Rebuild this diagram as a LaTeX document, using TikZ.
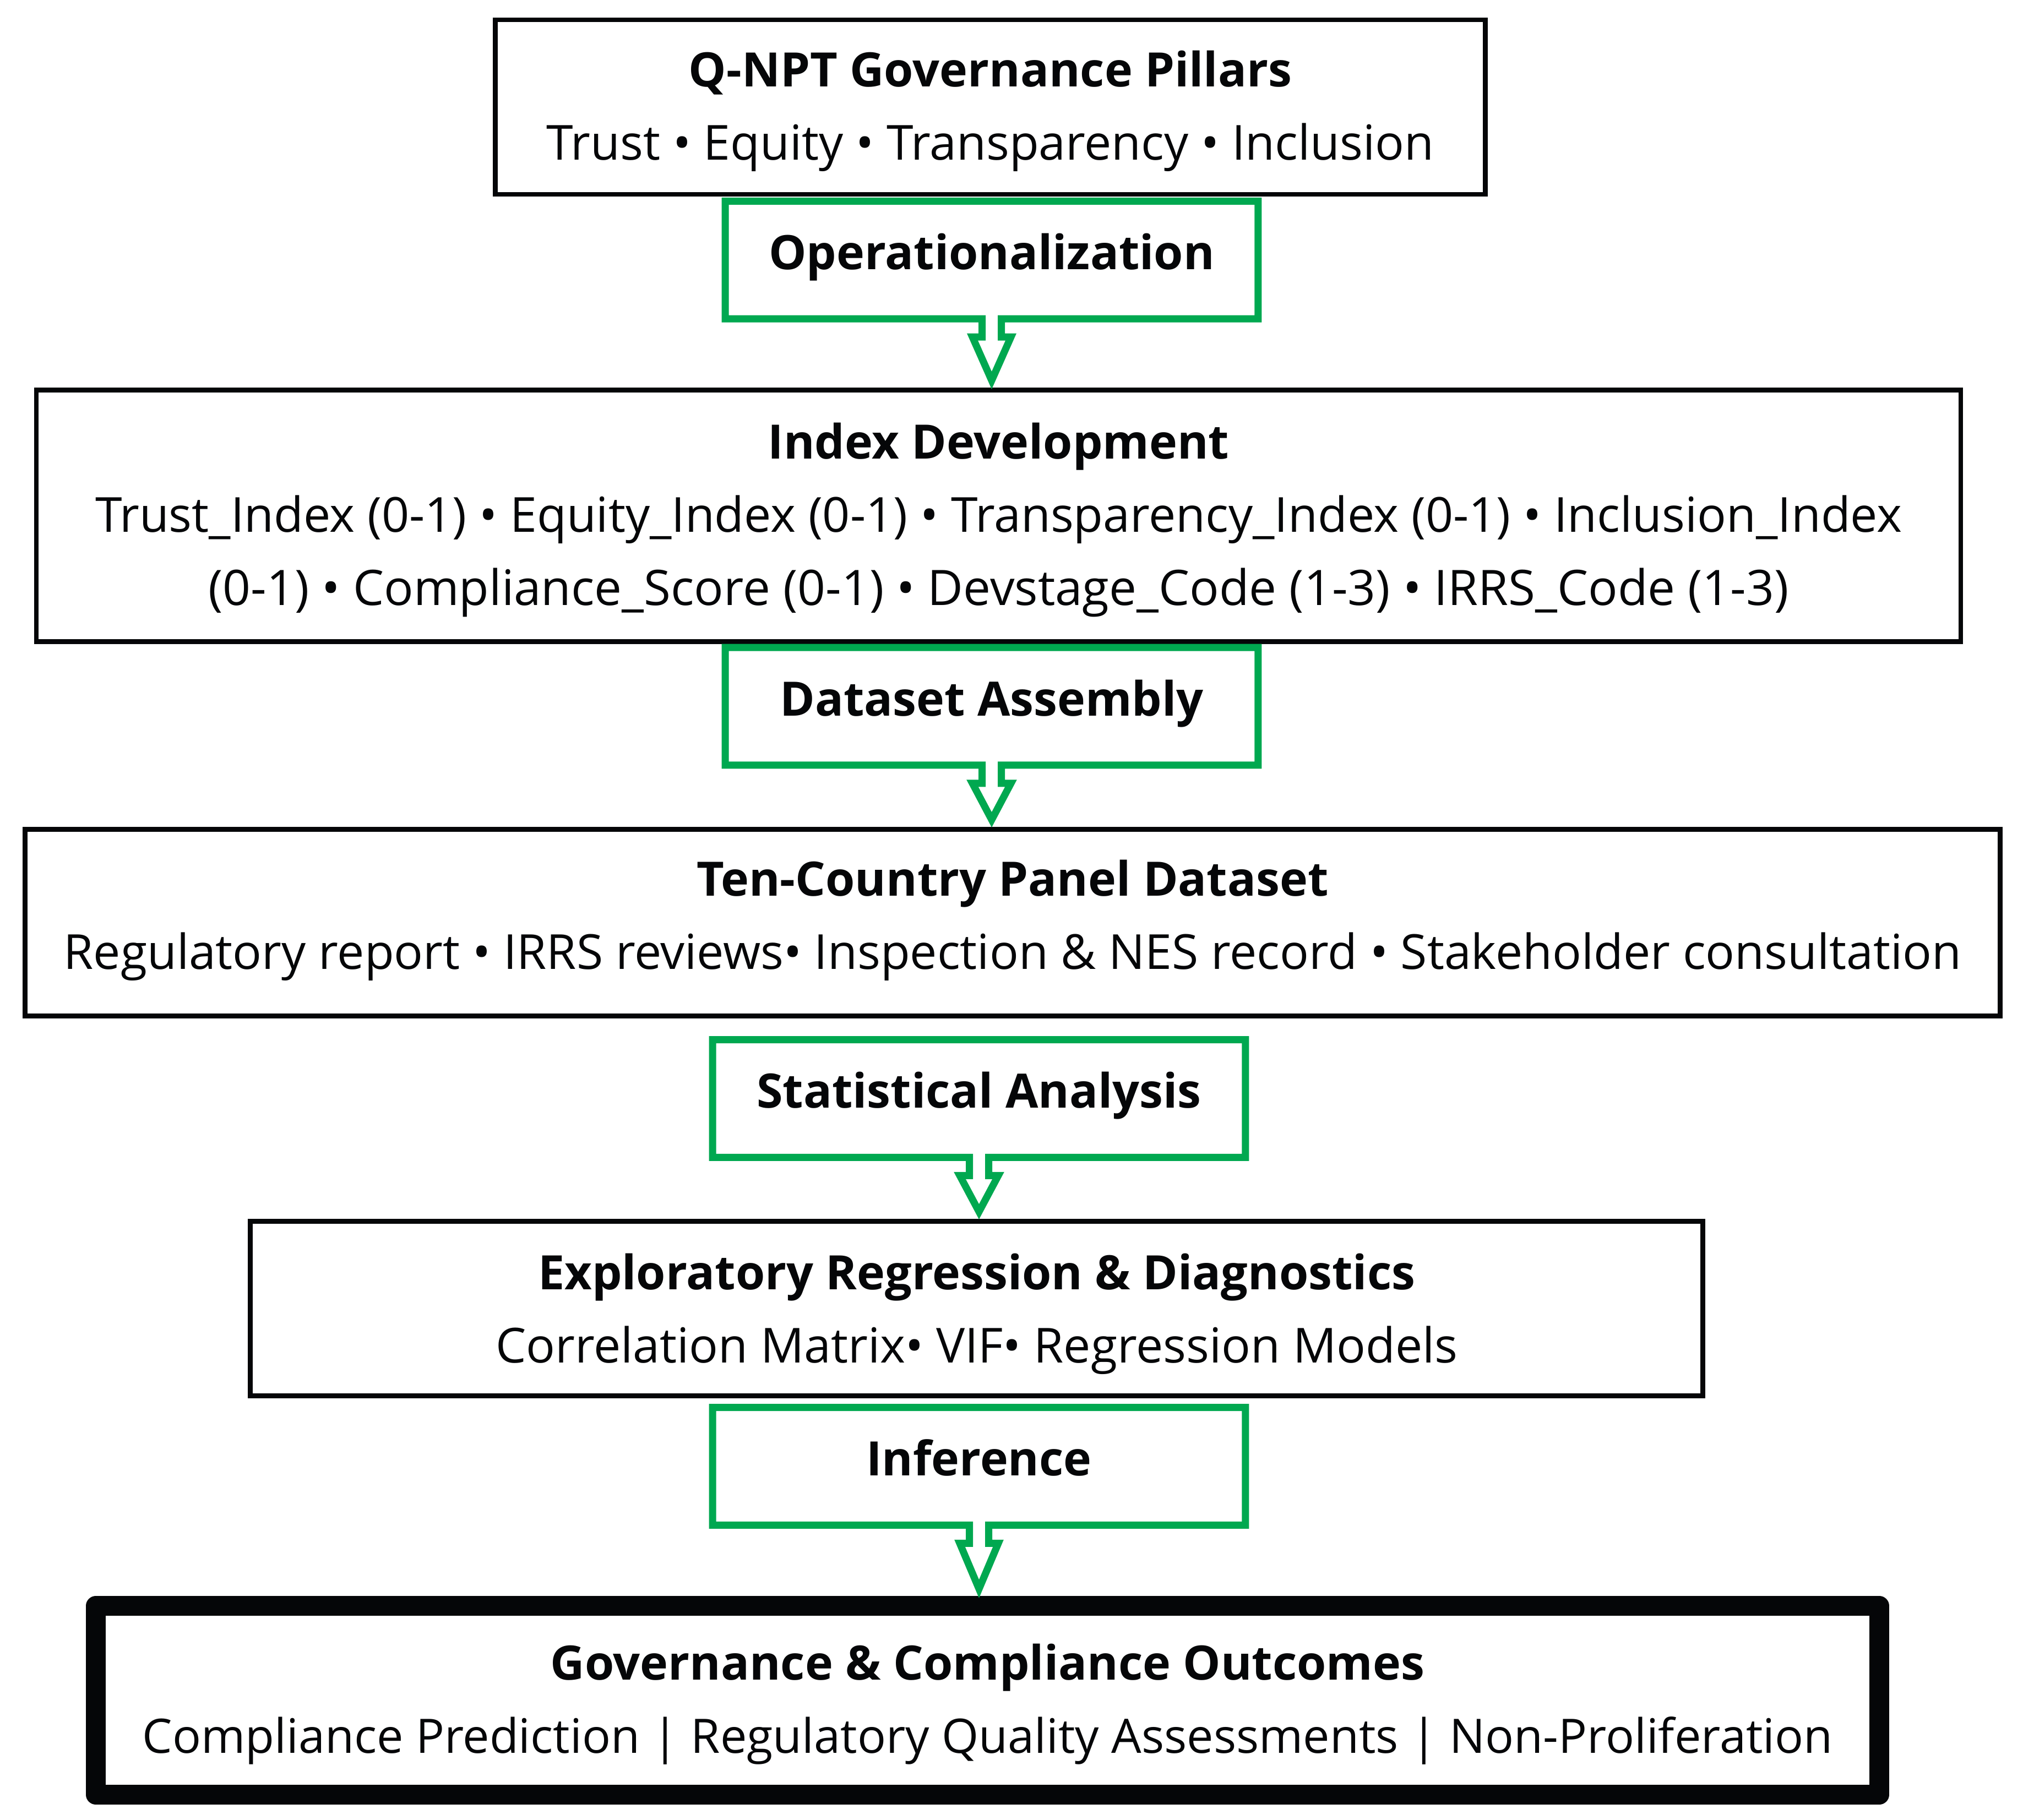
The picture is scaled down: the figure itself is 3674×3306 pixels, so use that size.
\documentclass[tikz,border=0pt]{standalone}
\usepackage{fontspec}
\setmainfont{Open Sans}
\usetikzlibrary{calc}
\definecolor{callgreen}{RGB}{0,168,80}
\definecolor{inkblack}{RGB}{5,6,8}
\newcommand{\drawcallout}[2]{%
  \draw[callline] (#1.south west) -- ($(#1.south)+(-17.5,0)$) -- ($(#1.south)+(-17.5,33)$)
    -- ($(#1.south)+(-35,33)$) -- ($(#1.south |- #2.north)+(0,-13)$) -- ($(#1.south)+(35,33)$)
    -- ($(#1.south)+(17.5,33)$) -- ($(#1.south)+(17.5,0)$) -- (#1.south east)
    -- (#1.north east) -- (#1.north west) -- cycle;}
\begin{document}
\begin{tikzpicture}[x=0.01cm,y=-0.01cm,
  box/.style={draw=inkblack, line width=2.5pt, inner sep=0pt},
  finalbox/.style={draw=inkblack, line width=10.1pt, line join=round, inner sep=0pt},
  callbox/.style={inner sep=0pt, outer sep=0pt, minimum width=9.67cm, minimum height=2.135cm},
  callline/.style={draw=callgreen, line width=3.7pt, line join=miter},
  ttl/.style={anchor=base, inner sep=0pt, font=\fontsize{24.5pt}{30pt}\selectfont\bfseries, text=inkblack},
  txt/.style={anchor=base, inner sep=0pt, font=\fontsize{24.95pt}{30pt}\selectfont, text=inkblack}]
\useasboundingbox (0,0) rectangle (3674,3306);

% boxes
\node[box, minimum width=17.97cm, minimum height=3.17cm] (b1) at (1798.5,194.5) {};
\node[box, minimum width=34.93cm, minimum height=4.57cm] (b2) at (1813.5,937) {};
\node[box, minimum width=35.85cm, minimum height=3.385cm] (b3) at (1839,1675.75) {};
\node[box, minimum width=26.365cm, minimum height=3.17cm] (b4) at (1773.75,2377) {};
\node[finalbox, minimum width=32.37cm, minimum height=3.43cm] (b5) at (1793.5,3088.5) {};

% box texts
\node[ttl] (b1t) at ($(b1.center)+(0,-37)$) {Q-NPT Governance Pillars};
\node[txt] (b1s) at ($(b1.center)+(0,96)$) {Trust • Equity • Transparency • Inclusion};

\node[ttl] (b2t) at ($(b2.center)+(0,-104)$) {Index Development};
\node[txt] (b2s) at ($(b2.center)+(0,29)$) {Trust\_Index (0-1) • Equity\_Index (0-1) • Transparency\_Index (0-1) • Inclusion\_Index};
\node[txt, font=\fontsize{25.3pt}{30pt}\selectfont] (b2u) at ($(b2.center)+(0,162)$) {(0-1) • Compliance\_Score (0-1) • Devstage\_Code (1-3) • IRRS\_Code (1-3)};

\node[ttl] (b3t) at ($(b3.center)+(0,-48)$) {Ten-Country Panel Dataset};
\node[txt] (b3s) at ($(b3.center)+(0,85)$) {Regulatory report • IRRS reviews• Inspection \& NES record • Stakeholder consultation};

\node[ttl] (b4t) at ($(b4.center)+(0,-35)$) {Exploratory Regression \& Diagnostics};
\node[txt] (b4s) at ($(b4.center)+(0,98)$) {Correlation Matrix• VIF• Regression Models};

\node[ttl] (b5t) at ($(b5.center)+(0,-37)$) {Governance \& Compliance Outcomes};
\node[txt, font=\fontsize{24.55pt}{30pt}\selectfont] (b5s) at ($(b5.center)+(0,96)$) {Compliance Prediction | Regulatory Quality Assessments | Non-Proliferation};

% callouts
\node[callbox] (c1) at (1801,472.25) {};
\node[callbox] (c2) at (1801,1283) {};
\node[callbox] (c3) at (1778,1995.5) {};
\node[callbox] (c4) at (1778,2663.5) {};
\drawcallout{c1}{b2}
\drawcallout{c2}{b3}
\drawcallout{c3}{b4}
\drawcallout{c4}{b5}
\node[ttl] (c1t) at ($(c1.center)+(0,17)$) {Operationalization};
\node[ttl] (c2t) at ($(c2.center)+(0,17)$) {Dataset Assembly};
\node[ttl] (c3t) at ($(c3.center)+(0,17)$) {Statistical Analysis};
\node[ttl] (c4t) at ($(c4.center)+(0,17)$) {Inference};
\end{tikzpicture}
\end{document}
